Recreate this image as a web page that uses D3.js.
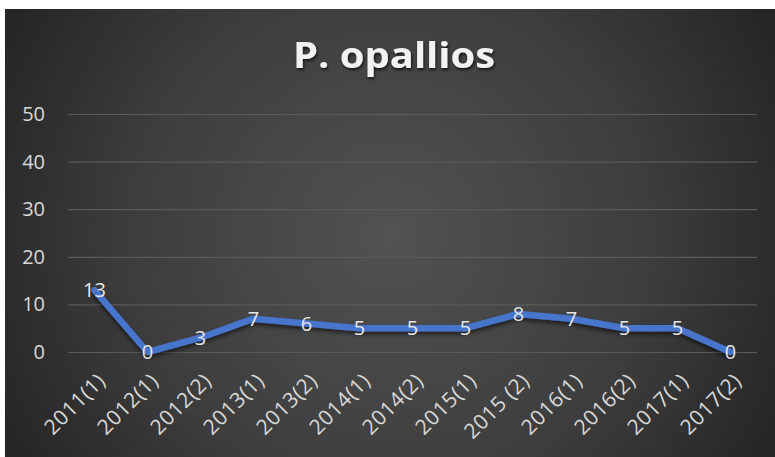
<!DOCTYPE html>
<html>
<head>
<meta charset="utf-8">
<script src="https://cdn.jsdelivr.net/npm/d3@7"></script>
<style>
  html, body { margin: 0; padding: 0; background: #fff; }
  #chart { width: 775px; height: 457px; }
</style>
</head>
<body>
<div id="chart"></div>
<script>
'use strict';

// Data
var title = "P. opallios"
var periods = ["2011(1)", "2012(1)", "2012(2)", "2013(1)", "2013(2)", "2014(1)", "2014(2)",
  "2015(1)", "2015 (2)", "2016(1)", "2016(2)", "2017(1)", "2017(2)"]
var counts = [13, 0, 3, 7, 6, 5, 5, 5, 8, 7, 5, 5, 0]
var yTicks = [0, 10, 20, 30, 40, 50]

var W = 775, H = 457
var frame = {left: 5, top: 9}
var margin = {top: 114, right: 18, bottom: 105, left: 68}
var width = W - margin.left - margin.right
var height = H - margin.top - margin.bottom
var font = "'Open Sans', 'Noto Sans', sans-serif"
var textColor = "#d9d9d9"

var svg = d3.select("#chart").append("svg")
  .attr("width", W)
  .attr("height", H)

var defs = svg.append("defs")

var bg = defs.append("radialGradient")
  .attr("id", "bg")
  .attr("gradientUnits", "userSpaceOnUse")
  .attr("cx", 390).attr("cy", 235).attr("r", 430)
bg.append("stop").attr("offset", "0%").attr("stop-color", "#525252")
bg.append("stop").attr("offset", "60%").attr("stop-color", "#3d3d3d")
bg.append("stop").attr("offset", "100%").attr("stop-color", "#262626")

var shadow = defs.append("filter")
  .attr("id", "shadow")
  .attr("x", "-10%").attr("y", "-30%").attr("width", "120%").attr("height", "160%")
shadow.append("feDropShadow")
  .attr("dx", 0).attr("dy", 3).attr("stdDeviation", 2)
  .attr("flood-color", "#000").attr("flood-opacity", 0.55)

var textShadow = defs.append("filter")
  .attr("id", "textShadow")
textShadow.append("feDropShadow")
  .attr("dx", 1).attr("dy", 2).attr("stdDeviation", 1.5)
  .attr("flood-color", "#000").attr("flood-opacity", 0.7)

// Background
svg.append("rect")
  .attr("x", frame.left).attr("y", frame.top)
  .attr("width", W - frame.left).attr("height", H - frame.top)
  .style("fill", "url(#bg)")

// Title
svg.append("text")
  .attr("x", 394)
  .attr("y", 68)
  .attr("text-anchor", "middle")
  .attr("textLength", 202)
  .attr("lengthAdjust", "spacingAndGlyphs")
  .style("font-family", font)
  .style("font-weight", "bold")
  .style("font-size", "36px")
  .style("fill", "#f2f2f2")
  .attr("filter", "url(#textShadow)")
  .text(title)

// Scales
var x = d3.scaleBand()
  .domain(periods)
  .range([0, width])

var y = d3.scaleLinear()
  .domain([0, 50])
  .range([height, 0])

var g = svg.append("g")
  .attr("transform", "translate(" + margin.left + "," + margin.top + ")")

// Gridlines
g.append("g")
    .attr("class", "grid")
    .call(d3.axisLeft(y).tickValues(yTicks).tickSize(-width).tickFormat(""))
    .call(function(s){
      s.select(".domain").remove()
      s.selectAll("line").style("stroke", "#5a5a5a").style("stroke-width", 1.2)
    })

// Y axis
g.append("g")
    .attr("class", "axis axis--y")
    .call(d3.axisLeft(y).tickValues(yTicks).tickSize(0).tickPadding(23))
    .call(function(s){
      s.select(".domain").remove()
      s.selectAll("text")
        .style("font-family", font)
        .style("font-size", "20px")
        .style("fill", textColor)
    })

// X axis
g.append("g")
    .attr("class", "axis axis--x")
    .attr("transform", "translate(0," + height + ")")
    .call(d3.axisBottom(x).tickSize(0))
    .call(function(s){
      s.select(".domain").remove()
      s.selectAll("text")
        .attr("dy", null)
        .attr("y", 0)
        .attr("transform", "translate(7,25) rotate(-45)")
        .attr("dy", "0.35em")
        .style("text-anchor", "end")
        .style("font-family", font)
        .style("font-size", "21px")
        .style("letter-spacing", "0.5px")
        .style("fill", textColor)
    })

// Line
var line = d3.line()
  .x(function(d, i) { return x(periods[i]) + x.bandwidth() / 2 })
  .y(function(d) { return y(d) })

g.append("path")
    .datum(counts)
    .attr("class", "line")
    .attr("d", line)
    .style("fill", "none")
    .style("stroke", "#4674cc")
    .style("stroke-width", 6.5)
    .style("stroke-linejoin", "round")
    .style("stroke-linecap", "round")
    .attr("filter", "url(#shadow)")

// Data labels
g.selectAll(".label")
  .data(counts)
  .enter().append("text")
    .attr("class", "label")
    .attr("x", function(d, i) { return x(periods[i]) + x.bandwidth() / 2 })
    .attr("y", function(d) { return y(d) })
    .attr("dy", "0.36em")
    .style("text-anchor", "middle")
    .style("font-family", font)
    .style("font-size", "20px")
    .style("fill", "#e6e6e6")
    .text(function(d) { return d })
</script>
</body>
</html>
